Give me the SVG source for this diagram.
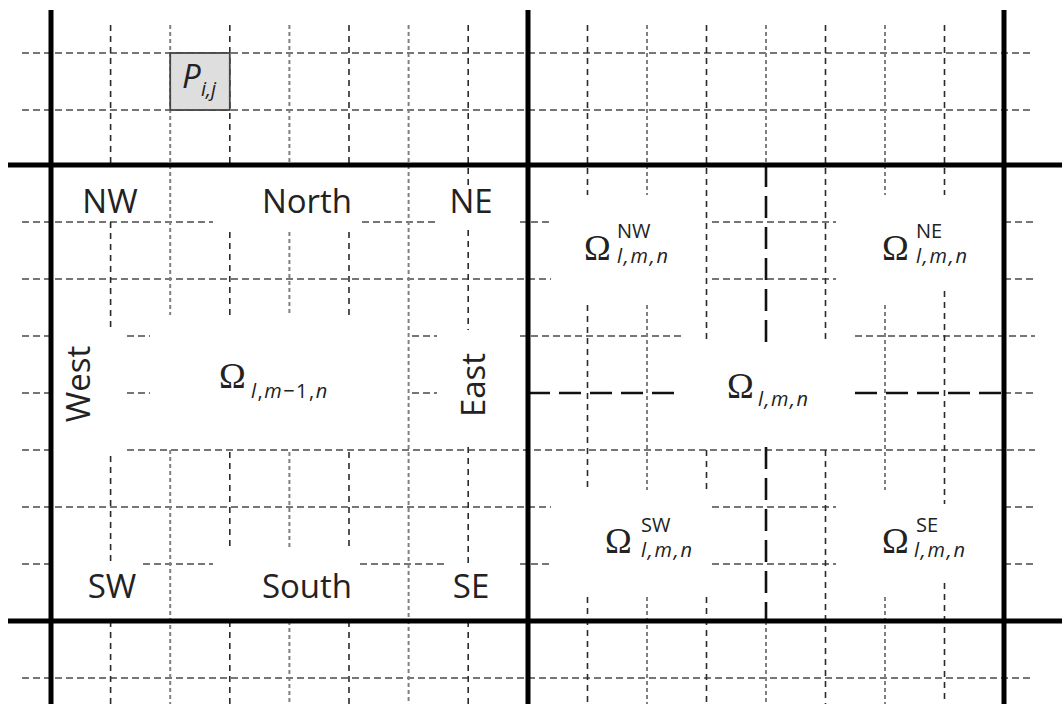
<svg xmlns="http://www.w3.org/2000/svg" width="1062" height="704" viewBox="0 0 1062 704">
<style>
.hd{fill:none;stroke:#4a4a4a;stroke-width:1.6;stroke-dasharray:7 4}
.vd{fill:none;stroke:#2a2a2a;stroke-width:1.6;stroke-dasharray:6 5}
.vg{fill:none;stroke:#808080;stroke-width:2;stroke-dasharray:4 3}
.ld{fill:none;stroke:#111;stroke-width:2.6;stroke-dasharray:22 9}
.thick{fill:none;stroke:#000;stroke-width:5}
.lab{font-family:"Open Sans","Liberation Sans",sans-serif;font-size:33px;fill:#222}
.om{font-family:"Liberation Serif","DejaVu Serif",serif;font-size:36px;fill:#222}
.ss{font-family:"Open Sans","Liberation Sans",sans-serif;font-size:20px;fill:#222}
.it{font-style:italic}
</style>
<rect width="1062" height="704" fill="#fff"/>
<g id="grid">
<path class="hd" d="M22 53H1033M22 110H1033M22 222H213M362 222H437M520 222H551M712 222H836M1004 222H1035M22 279H551M712 279H836M1004 279H1035M22 336H51M127 336H150M412 336H437M520 336H682M855 336H1035M22 393H51M127 393H150M412 393H437M1004 393H1035M22 450H51M127 450H1035M22 507H551M712 507H836M1004 507H1035M22 564H51M143 564H213M360 564H447M520 564H551M712 564H836M1004 564H1035M22 678H1033"/>
<path class="vg" d="M170.2 25V315M170.2 450V704M289.4 25V165M289.4 232V315M289.4 452V550M289.4 621V704M408.6 25V704M647 25V195M647 305V490M647 597V704M766 25V165M766 621V704M885 25V195M885 305V490M885 597V704"/>
<path class="vd" d="M110.6 25V165M110.6 222V330M110.6 456V563M110.6 621V704M229.8 25V165M229.8 232V315M229.8 452V550M229.8 621V704M349 25V165M349 232V315M349 452V550M349 621V704M468.2 25V188M468.2 230V330M468.2 447V563M468.2 621V704M587.5 25V195M587.5 305V490M587.5 597V704M706.5 25V343M706.5 450V490M706.5 597V704M825.5 25V343M825.5 450V704M944.5 25V195M944.5 291V504M944.5 583V704"/>
</g>
<g id="connectors">
<path class="ld" d="M766 165V343M766 447V621M528 393H677M855 393H1004"/>
<path class="thick" d="M51 10V704M528 10V704M1004 10V704M8 165H1062M8 621H1062"/>
</g>
<g id="cell-pij">
<rect x="170.2" y="53" width="59.6" height="57" fill="#dedede" stroke="#444" stroke-width="1.8"/>
<text class="lab it" x="182" y="88" font-size="33">P</text>
<text class="ss it" x="201" y="96">i,j</text>
</g>
<g id="label-nw"><text class="lab" x="110" y="213" text-anchor="middle">NW</text></g>
<g id="label-north"><text class="lab" x="307" y="213" text-anchor="middle">North</text></g>
<g id="label-ne"><text class="lab" x="471" y="213" text-anchor="middle">NE</text></g>
<g id="label-sw"><text class="lab" x="112" y="598" text-anchor="middle">SW</text></g>
<g id="label-south"><text class="lab" x="307" y="598" text-anchor="middle">South</text></g>
<g id="label-se"><text class="lab" x="471" y="598" text-anchor="middle">SE</text></g>
<g id="label-west"><text class="lab" transform="translate(90,384) rotate(-90)" text-anchor="middle">West</text></g>
<g id="label-east"><text class="lab" transform="translate(485,385) rotate(-90)" text-anchor="middle">East</text></g>
<g id="omega-lm1n">
<text class="om" x="219" y="388">Ω</text>
<text class="ss" x="251" y="398" font-size="23" letter-spacing="1.5"><tspan class="it">l</tspan>,<tspan class="it">m</tspan>−1,<tspan class="it">n</tspan></text>
</g>
<g id="omega-lmn">
<text class="om" x="727" y="398">Ω</text>
<text class="ss it" x="758" y="406" font-size="22" letter-spacing="1.5">l,m,n</text>
</g>
<g id="omega-nw">
<text class="om" x="584" y="260">Ω</text>
<text class="ss" x="617" y="238">NW</text>
<text class="ss it" x="617" y="263" letter-spacing="1.8">l,m,n</text>
</g>
<g id="omega-ne">
<text class="om" x="882" y="260">Ω</text>
<text class="ss" x="916" y="238">NE</text>
<text class="ss it" x="916" y="263" letter-spacing="1.8">l,m,n</text>
</g>
<g id="omega-sw">
<text class="om" x="605" y="553">Ω</text>
<text class="ss" x="641" y="532">SW</text>
<text class="ss it" x="641" y="557" letter-spacing="1.8">l,m,n</text>
</g>
<g id="omega-se">
<text class="om" x="882" y="553">Ω</text>
<text class="ss" x="916" y="532">SE</text>
<text class="ss it" x="914" y="557" letter-spacing="1.8">l,m,n</text>
</g>
</svg>
